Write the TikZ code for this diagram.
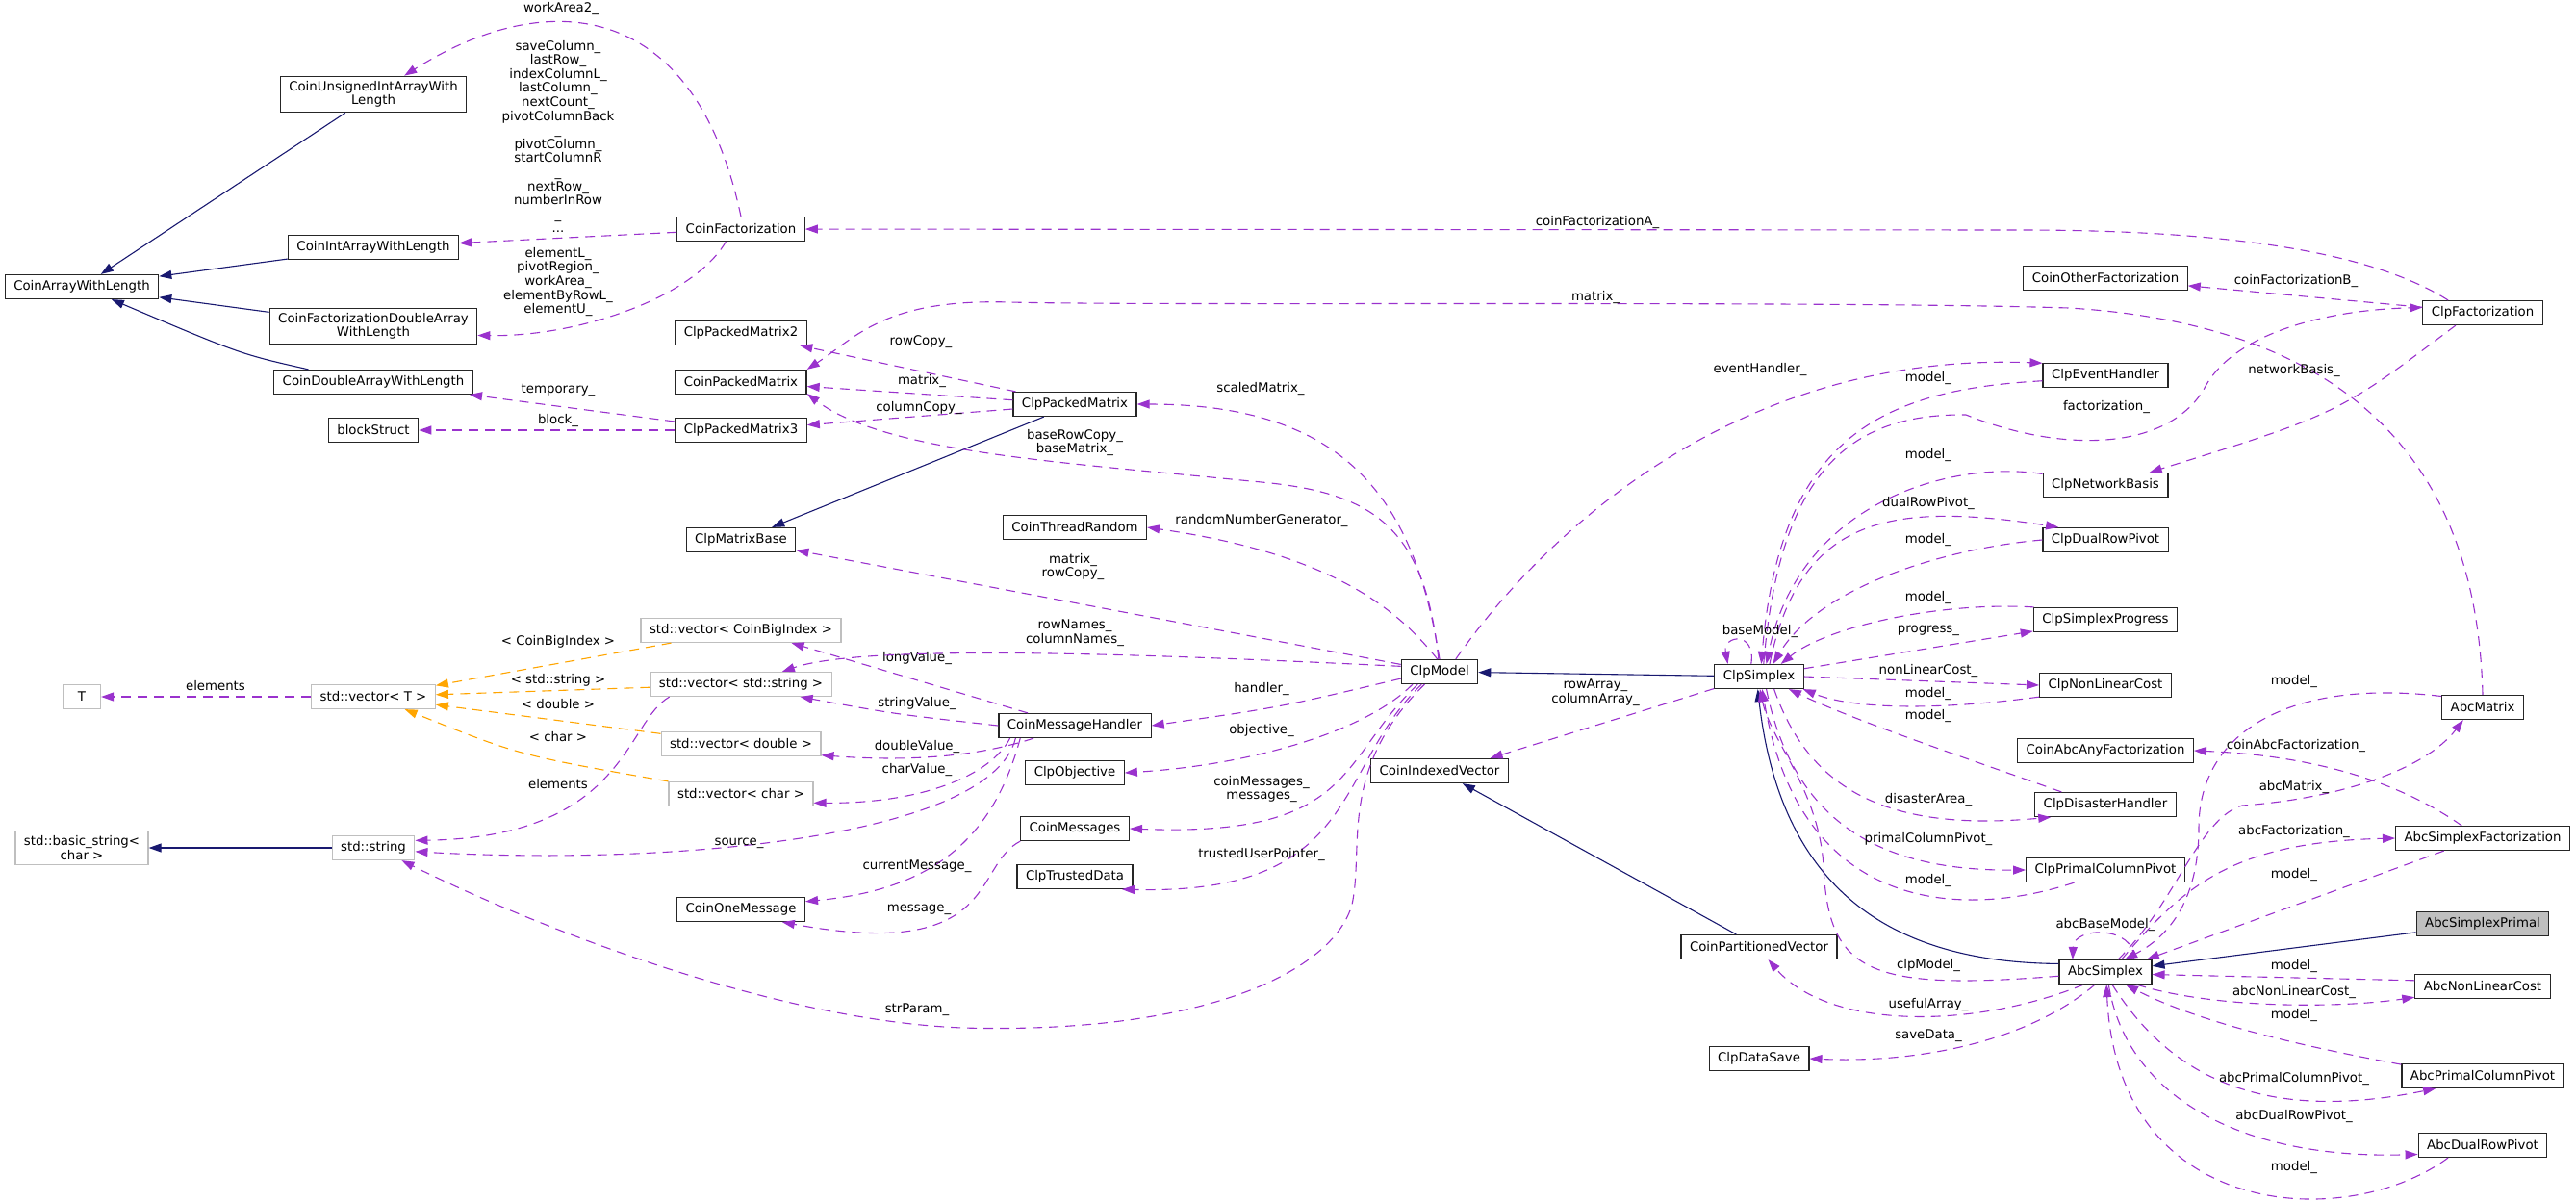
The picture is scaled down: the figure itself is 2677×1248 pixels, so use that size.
\documentclass[tikz,border=0pt]{standalone}
\usepackage{fontspec}
\setmainfont{DejaVu Sans}
\usetikzlibrary{arrows.meta}
\definecolor{edgepurple}{HTML}{9A32CD}
\definecolor{inhblue}{HTML}{191970}
\definecolor{tmplorange}{HTML}{FFA500}
\definecolor{extgray}{HTML}{BFBFBF}

\begin{document}
\begin{tikzpicture}[
    x=1pt, y=-1pt,
    cls/.style={rectangle, draw=black!85, fill=white, line width=1.2pt, font=\fontsize{13.3}{14.6}\selectfont, inner xsep=9pt, inner ysep=5pt, minimum height=25pt, align=center},
    extcls/.style={cls, draw=extgray},
    curcls/.style={cls, fill=extgray},
    lbl/.style={font=\fontsize{13.3}{14.6}\selectfont, inner sep=0pt, align=center},
    usage/.style={draw=edgepurple, line width=1.1pt, dash pattern=on 10pt off 7pt, -{Triangle[length=13pt, width=9pt]}},
    inherit/.style={draw=inhblue, line width=1.1pt, -{Triangle[length=13pt, width=9pt]}},
    templ/.style={draw=tmplorange, line width=1.1pt, dash pattern=on 10pt off 7pt, -{Triangle[length=13pt, width=9pt]}}
]
\useasboundingbox (0,0) rectangle (2677,1248);

% Classes
\node[cls] (cuiawl) at (388,98) {CoinUnsignedIntArrayWith\\Length};
\node[cls] (ciawl) at (388,257) {CoinIntArrayWithLength};
\node[cls] (cawl) at (85,298) {CoinArrayWithLength};
\node[cls] (cfdawl) at (388,339) {CoinFactorizationDoubleArray\\WithLength};
\node[cls] (cdawl) at (388,397) {CoinDoubleArrayWithLength};
\node[cls] (blockstruct) at (388,447) {blockStruct};
\node[extcls, minimum width=39pt] (tnode) at (85,724) {T};
\node[extcls] (vect) at (388,724) {std::vector< T >};
\node[extcls] (basicstr) at (85,881) {std::basic\_string<\\char >};
\node[extcls] (stdstr) at (388,881) {std::string};
\node[cls] (coinfact) at (770,238) {CoinFactorization};
\node[cls] (cpm2) at (770,346) {ClpPackedMatrix2};
\node[cls] (coinpm) at (770,397) {CoinPackedMatrix};
\node[cls] (cpm3) at (770,447) {ClpPackedMatrix3};
\node[cls] (matbase) at (770,561) {ClpMatrixBase};
\node[extcls] (vecbig) at (770,655) {std::vector< CoinBigIndex >};
\node[extcls] (vecstr) at (770,711) {std::vector< std::string >};
\node[extcls] (vecdbl) at (770,773) {std::vector< double >};
\node[extcls] (vecchar) at (770,825) {std::vector< char >};
\node[cls] (onemsg) at (770,945) {CoinOneMessage};
\node[cls] (cpm) at (1117,420) {ClpPackedMatrix};
\node[cls] (threadrnd) at (1117,548) {CoinThreadRandom};
\node[cls] (msghandler) at (1117,754) {CoinMessageHandler};
\node[cls] (objective) at (1117,803) {ClpObjective};
\node[cls] (messages) at (1117,861) {CoinMessages};
\node[cls] (trusted) at (1117,911) {ClpTrustedData};
\node[cls] (model) at (1496,698) {ClpModel};
\node[cls] (indexed) at (1496,801) {CoinIndexedVector};
\node[cls] (simplex) at (1828,703) {ClpSimplex};
\node[cls] (partvec) at (1828,984) {CoinPartitionedVector};
\node[cls] (datasave) at (1828,1100) {ClpDataSave};
\node[cls] (otherfact) at (2188,289) {CoinOtherFactorization};
\node[cls] (eventh) at (2188,390) {ClpEventHandler};
\node[cls] (netbasis) at (2188,504) {ClpNetworkBasis};
\node[cls] (dualrow) at (2188,561) {ClpDualRowPivot};
\node[cls] (progress) at (2188,644) {ClpSimplexProgress};
\node[cls] (nonlin) at (2188,712) {ClpNonLinearCost};
\node[cls] (abcanyfact) at (2188,780) {CoinAbcAnyFactorization};
\node[cls] (disaster) at (2188,836) {ClpDisasterHandler};
\node[cls] (primalcol) at (2188,904) {ClpPrimalColumnPivot};
\node[cls] (abcsimplex) at (2188,1010) {AbcSimplex};
\node[cls] (clpfact) at (2580,325) {ClpFactorization};
\node[cls] (abcmatrix) at (2580,735) {AbcMatrix};
\node[cls] (abcsfact) at (2580,871) {AbcSimplexFactorization};
\node[curcls] (abcprimal) at (2580,960) {AbcSimplexPrimal};
\node[cls] (abcnonlin) at (2580,1025) {AbcNonLinearCost};
\node[cls] (abcprimcol) at (2580,1118) {AbcPrimalColumnPivot};
\node[cls] (abcdual) at (2580,1190) {AbcDualRowPivot};

% Inheritance
\draw[inherit] (cuiawl) -- (cawl);
\draw[inherit] (ciawl) -- (cawl);
\draw[inherit] (cfdawl) -- (cawl);
\draw[inherit] (cdawl.169) .. controls (250,368) .. (cawl);
\draw[inherit] (cpm) -- (matbase);
\draw[inherit] (stdstr) -- (basicstr);
\draw[inherit] (simplex) -- (model);
\draw[inherit] (partvec) -- (indexed);
\draw[inherit] (abcsimplex.170) .. controls (1960,1000) and (1850,920) .. (simplex.-96);
\draw[inherit] (abcprimal) -- (abcsimplex);

% Template instances
\draw[templ] (vecbig) -- (vect) node[lbl] (lbigidx) at (580,667) {< CoinBigIndex >};
\draw[templ] (vecstr) -- (vect) node[lbl] (lstdstr) at (580,707) {< std::string >};
\draw[templ] (vecdbl) -- (vect) node[lbl] (ldouble) at (580,732) {< double >};
\draw[templ] (vecchar) .. controls (540,785) .. (vect) node[lbl] (lchar) at (580,766) {< char >};

% Members, left part
\draw[usage] (vect) -- (tnode) node[lbl] (lelem1) at (224,713) {elements};
\draw[usage] (vecstr.-170) .. controls (650,750) and (650,870) .. (stdstr.10) node[lbl] (lelem2) at (580,815) {elements};
\draw[usage] (coinfact.north) .. controls (720,-10) and (560,-10) .. (cuiawl.31) node[lbl] (lwork2) at (583,9) {workArea2\_};
\draw[usage] (coinfact) -- (ciawl) node[lbl] (lsavecol) at (580,142) {saveColumn\_\\lastRow\_\\indexColumnL\_\\lastColumn\_\\nextCount\_\\pivotColumnBack\\\_\\pivotColumn\_\\startColumnR\\\_\\nextRow\_\\numberInRow\\\_\\...};
\draw[usage] (coinfact.-140) .. controls (720,310) and (600,350) .. (cfdawl.-5) node[lbl] (lelemL) at (580,293) {elementL\_\\pivotRegion\_\\workArea\_\\elementByRowL\_\\elementU\_};
\draw[usage] (cpm3) -- (cdawl) node[lbl] (ltemp) at (580,405) {temporary\_};
\draw[usage] (cpm3) -- (blockstruct) node[lbl] (lblock) at (580,437) {block\_};
\draw[usage] (cpm) -- (cpm2) node[lbl] (lrowcopy) at (957,355) {rowCopy\_};
\draw[usage] (cpm) -- (coinpm) node[lbl] (lmatrix1) at (958,396) {matrix\_};
\draw[usage] (cpm) -- (cpm3) node[lbl] (lcolcopy) at (955,424) {columnCopy\_};
\draw[usage] (msghandler.165) -- (vecbig.-14) node[lbl] (llong) at (953,684) {longValue\_};
\draw[usage] (msghandler.west) .. controls (930,742) .. (vecstr.-12) node[lbl] (lstring) at (953,731) {stringValue\_};
\draw[usage] (msghandler.-163) .. controls (1020,785) and (950,792) .. (vecdbl.-8) node[lbl] (ldblval) at (953,776) {doubleValue\_};
\draw[usage] (msghandler.-169) .. controls (1030,805) and (960,835) .. (vecchar.-7) node[lbl] (lcharval) at (953,800) {charValue\_};
\draw[usage] (msghandler.-168) .. controls (1030,870) and (700,900) .. (stdstr.-5) node[lbl] (lsource) at (768,876) {source\_};
\draw[usage] (msghandler.-167) .. controls (1030,880) and (960,925) .. (onemsg.7) node[lbl] (lcurmsg) at (953,900) {currentMessage\_};
\draw[usage] (messages.-167) .. controls (1010,900) and (1040,1000) .. (onemsg.-17) node[lbl] (lmessage) at (955,945) {message\_};

% Members of ClpModel
\draw[usage] (model.north) .. controls (1470,520) and (1400,420) .. (cpm.east) node[lbl] (lscaled) at (1310,404) {scaledMatrix\_};
\draw[usage] (model.95) .. controls (1480,540) and (1420,510) .. (1300,500) .. controls (1100,480) and (920,470) .. (coinpm.-10) node[lbl] (lbaserow) at (1117,460) {baseRowCopy\_\\baseMatrix\_};
\draw[usage] (model.100) .. controls (1450,630) and (1380,575) .. (threadrnd.east) node[lbl] (lrandom) at (1311,541) {randomNumberGenerator\_};
\draw[usage] (model) -- (matbase) node[lbl] (lmatrow) at (1115,589) {matrix\_\\rowCopy\_};
\draw[usage] (model.172) .. controls (1200,680) and (900,668) .. (vecstr.17) node[lbl] (lnames) at (1117,658) {rowNames\_\\columnNames\_};
\draw[usage] (model.190) .. controls (1330,735) .. (msghandler.east) node[lbl] (lhandler) at (1311,716) {handler\_};
\draw[usage] (model.205) .. controls (1420,760) and (1300,795) .. (objective.east) node[lbl] (lobjective) at (1311,759) {objective\_};
\draw[usage] (model.210) .. controls (1390,790) and (1410,870) .. (messages.east) node[lbl] (lmessages) at (1311,820) {coinMessages\_\\messages\_};
\draw[usage] (model.215) .. controls (1385,800) and (1415,930) .. (trusted.-15) node[lbl] (ltrusted) at (1311,888) {trustedUserPointer\_};
\draw[usage] (model.220) .. controls (1390,800) and (1418,880) .. (1405,940) .. controls (1385,1010) and (1250,1075) .. (1000,1068) .. controls (800,1060) and (550,960) .. (stdstr.-24) node[lbl] (lstrparam) at (953,1049) {strParam\_};
\draw[usage] (model.38) .. controls (1600,560) and (1800,365) .. (eventh.169) node[lbl] (levent) at (1829,384) {eventHandler\_};
\draw[usage] (abcmatrix.north) .. controls (2575,520) and (2480,340) .. (2150,320) .. controls (1900,312) and (1200,318) .. (1050,314) .. controls (920,310) and (890,350) .. (coinpm.north east) node[lbl] (lmatrix2) at (1658,309) {matrix\_};

% ClpFactorization
\draw[usage] (clpfact.160) .. controls (2470,265) and (2330,239) .. (2100,239) -- (coinfact) node[lbl] (lfactA) at (1660,231) {coinFactorizationA\_};
\draw[usage] (clpfact) -- (otherfact) node[lbl] (lfactB) at (2386,292) {coinFactorizationB\_};
\draw[usage] (clpfact.-155) .. controls (2430,430) .. (netbasis.16) node[lbl] (lnetwork) at (2384,385) {networkBasis\_};

% Members of ClpSimplex
\draw[usage] (simplex.70) .. controls (1850,480) and (1930,430) .. (2043,431) .. controls (2140,470) and (2250,470) .. (2290,405) .. controls (2320,345) and (2420,322) .. (clpfact.175) node[lbl] (lfact) at (2189,423) {factorization\_};
\draw[usage] (eventh.-175) .. controls (1960,405) and (1850,450) .. (simplex.80) node[lbl] (lmodel1) at (2004,393) {model\_};
\draw[usage] (netbasis.170) .. controls (2030,478) and (1870,520) .. (simplex.60) node[lbl] (lmodel2) at (2004,473) {model\_};
\draw[usage] (simplex.50) .. controls (1870,540) and (1960,520) .. (dualrow.165) node[lbl] (ldualrow) at (2004,523) {dualRowPivot\_};
\draw[usage] (dualrow.west) .. controls (2020,570) and (1890,610) .. (simplex.42) node[lbl] (lmodel3) at (2004,561) {model\_};
\draw[usage] (progress.170) .. controls (2020,625) and (1900,650) .. (simplex.30) node[lbl] (lmodel4) at (2004,621) {model\_};
\draw[usage] (simplex.10) -- (progress.-171) node[lbl] (lprogress) at (2004,655) {progress\_};
\draw[usage] (simplex.122) .. controls (1825,655) and (1790,660) .. (simplex.158) node[lbl] (lbasemodel) at (1829,656) {baseModel\_};
\draw[usage] (simplex.east) -- (nonlin.west) node[lbl] (lnonlin) at (2004,697) {nonLinearCost\_};
\draw[usage] (nonlin.-170) .. controls (2000,740) and (1920,735) .. (simplex.-16) node[lbl] (lmodel5) at (2004,721) {model\_};
\draw[usage] (disaster.164) .. controls (2050,790) and (1930,750) .. (simplex.-23) node[lbl] (lmodel6) at (2004,744) {model\_};
\draw[usage] (simplex.-40) .. controls (1880,820) and (1960,865) .. (disaster.-167) node[lbl] (ldisaster) at (2004,831) {disasterArea\_};
\draw[usage] (simplex.-60) .. controls (1865,860) and (1960,905) .. (primalcol.west) node[lbl] (lprimalcol) at (2004,872) {primalColumnPivot\_};
\draw[usage] (primalcol.-158) .. controls (2040,955) and (1870,950) .. (simplex.-76) node[lbl] (lmodel7) at (2004,915) {model\_};
\draw[usage] (simplex.-165) -- (indexed.14) node[lbl] (lrowarray) at (1658,720) {rowArray\_\\columnArray\_};

% Members of AbcSimplex
\draw[usage] (abcsimplex.-175) .. controls (1940,1030) and (1900,1010) .. (1895,900) .. controls (1890,820) and (1840,770) .. (simplex.-86) node[lbl] (lclpmodel) at (2004,1003) {clpModel\_};
\draw[usage] (abcsimplex.-150) .. controls (2050,1070) and (1900,1070) .. (partvec.-54) node[lbl] (luseful) at (2004,1044) {usefulArray\_};
\draw[usage] (abcsimplex.-130) .. controls (2110,1080) and (2000,1105) .. (datasave.east) node[lbl] (lsavedata) at (2004,1076) {saveData\_};
\draw[usage] (abcmatrix.165) .. controls (2380,705) and (2285,760) .. (2285,860) .. controls (2285,940) and (2250,975) .. (abcsimplex.33) node[lbl] (lmodel8) at (2384,708) {model\_};
\draw[usage] (abcsfact.149) .. controls (2490,810) and (2400,785) .. (abcanyfact.east) node[lbl] (lcoinabc) at (2386,775) {coinAbcFactorization\_};
\draw[usage] (abcsimplex.45) .. controls (2260,940) and (2285,850) .. (2330,837) .. controls (2430,830) and (2520,800) .. (abcmatrix.-147) node[lbl] (labcmatrix) at (2384,818) {abcMatrix\_};
\draw[usage] (abcsimplex.38) .. controls (2270,920) and (2320,875) .. (abcsfact.west) node[lbl] (labcfact) at (2384,864) {abcFactorization\_};
\draw[usage] (abcsfact.-162) -- (abcsimplex.17) node[lbl] (lmodel9) at (2384,909) {model\_};
\draw[usage] (abcsimplex.24) .. controls (2220,962) and (2155,962) .. (abcsimplex.159) node[lbl] (labcbase) at (2188,961) {abcBaseModel\_};
\draw[usage] (abcnonlin.175) -- (abcsimplex.-3) node[lbl] (lmodel10) at (2384,1004) {model\_};
\draw[usage] (abcsimplex.-22) .. controls (2300,1048) and (2430,1048) .. (abcnonlin.-171) node[lbl] (labcnonlin) at (2384,1031) {abcNonLinearCost\_};
\draw[usage] (abcprimcol.172) .. controls (2380,1085) and (2280,1060) .. (abcsimplex.-32) node[lbl] (lmodel11) at (2384,1055) {model\_};
\draw[usage] (abcsimplex.-62) .. controls (2250,1110) and (2340,1170) .. (abcprimcol.-165) node[lbl] (labcprimcol) at (2384,1121) {abcPrimalColumnPivot\_};
\draw[usage] (abcsimplex.-76) .. controls (2210,1140) and (2330,1205) .. (abcdual.-172) node[lbl] (labcdual) at (2384,1160) {abcDualRowPivot\_};
\draw[usage] (abcdual.-160) .. controls (2440,1280) and (2200,1270) .. (abcsimplex.-85) node[lbl] (lmodel12) at (2384,1213) {model\_};

\end{tikzpicture}
\end{document}
